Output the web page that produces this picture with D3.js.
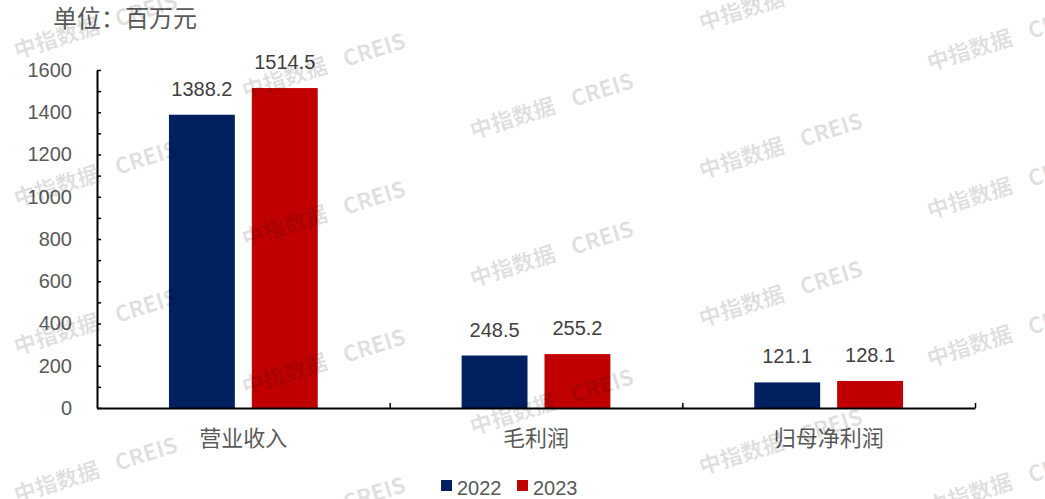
<!DOCTYPE html>
<html>
<head>
<meta charset="utf-8">
<script src="https://cdn.jsdelivr.net/npm/d3@7"></script>
<style>
  html, body { margin: 0; padding: 0; background: #fff; }
  svg { display: block; }
  text { font-family: "Liberation Sans", Arial, "Noto Sans CJK SC", sans-serif; }
</style>
</head>
<body>
<svg id="chart" width="1045" height="499"></svg>
<script>
const categories = ["营业收入", "毛利润", "归母净利润"];
const years = ["2022", "2023"];
const values2022 = [1388.2, 248.5, 121.1];
const values2023 = [1514.5, 255.2, 128.1];
const yTicks = [0, 100, 200, 300, 400, 500, 600, 700, 800, 900, 1000, 1100, 1200, 1300, 1400, 1500, 1600];
const unitLabel = "单位：百万元";
const colors = { "2022": "#002060", "2023": "#C00000" };

(function () {
const seriesValues = { "2022": values2022, "2023": values2023 };
const data = categories.map((c, i) => ({ cat: c, vals: years.map(y => ({ year: y, value: seriesValues[y][i] })) }));

const svg = d3.select("#chart");
const plotLeft = 97, plotRight = 975, plotTop = 70, plotBottom = 408;

const y = d3.scaleLinear().domain([0, 1600]).range([plotBottom, plotTop]);
const x0 = d3.scaleBand().domain(categories).range([plotLeft, plotRight]).paddingInner(0).paddingOuter(0);
const x1 = d3.scaleBand().domain(years).range([0, x0.bandwidth()]).paddingInner(17 / 83).paddingOuter(0.868);

// unit label
svg.append("text").attr("x", 53).attr("y", 27)
  .attr("font-size", 24).attr("fill", "#595959")
  .style("font-family", "'Noto Sans CJK SC', sans-serif")
  .text(unitLabel);

// bars
const g = svg.append("g");
const groups = g.selectAll("g.cat").data(data).enter().append("g")
  .attr("transform", d => `translate(${x0(d.cat)},0)`);
groups.selectAll("rect").data(d => d.vals).enter().append("rect")
  .attr("x", d => x1(d.year))
  .attr("y", d => y(d.value))
  .attr("width", x1.bandwidth())
  .attr("height", d => y(0) - y(d.value))
  .attr("fill", d => colors[d.year]);
groups.selectAll("text.val").data(d => d.vals).enter().append("text")
  .attr("class", "val")
  .attr("x", d => x1(d.year) + x1.bandwidth() / 2)
  .attr("y", d => y(d.value) - 19)
  .attr("text-anchor", "middle")
  .attr("font-size", 20)
  .attr("fill", "#404040")
  .text(d => d.value.toFixed(1));

// y axis
const yAxis = d3.axisLeft(y).tickValues(yTicks).tickSizeInner(-4).tickSizeOuter(0).tickPadding(25)
  .tickFormat(d => d % 200 === 0 ? d : "");
const yg = svg.append("g").attr("transform", `translate(${plotLeft},0)`).call(yAxis);
yg.select(".domain").attr("stroke", "#000").attr("stroke-width", 2);
yg.selectAll(".tick line").attr("stroke", "#000").attr("stroke-width", 1.5);
yg.selectAll(".tick text").attr("font-size", 20).attr("fill", "#595959")
  .style("font-family", "'Liberation Sans', Arial, sans-serif");

// x axis: boundary ticks
const xb = d3.scaleLinear().domain([0, categories.length]).range([plotLeft, plotRight]);
const xbAxis = d3.axisBottom(xb).tickValues([1, 2, 3]).tickSizeInner(-5).tickSizeOuter(0).tickFormat("");
const xbg = svg.append("g").attr("transform", `translate(0,${plotBottom})`).call(xbAxis);
xbg.select(".domain").attr("stroke", "#000").attr("stroke-width", 2);
xbg.selectAll(".tick line").attr("stroke", "#000").attr("stroke-width", 1.5);

// category labels
const xAxis = d3.axisBottom(x0).tickSize(0).tickPadding(22);
const xg = svg.append("g").attr("transform", `translate(0,${plotBottom})`).call(xAxis);
xg.select(".domain").remove();
xg.selectAll(".tick text").attr("font-size", 22).attr("fill", "#595959")
  .style("font-family", "'Noto Sans CJK SC', sans-serif");

// legend
const legend = svg.append("g");
const legX = [441, 517];
years.forEach((yr, i) => {
  legend.append("rect").attr("x", legX[i]).attr("y", 480).attr("width", 11).attr("height", 11).attr("fill", colors[yr]);
  legend.append("text").attr("x", legX[i] + 16).attr("y", 495).attr("font-size", 20).attr("fill", "#595959").text(yr);
});

// watermarks
const wm = svg.append("g").attr("pointer-events", "none");
const colX = [17, 245, 473, 702, 930];
const baseY = 59;
for (let c = 0; c < colX.length; c++) {
  for (let r = -1; r < 5; r++) {
    const wx = colX[c], wy = baseY + 40 * c + 148 * r;
    if (wy < -20 || wy > 560) continue;
    const t = wm.append("text")
      .attr("transform", `translate(${wx},${wy}) rotate(-17.6)`)
      .attr("font-size", 22).attr("font-weight", "bold")
      .attr("fill", "#000").attr("fill-opacity", 0.13)
      .style("font-family", "'Noto Sans CJK SC', sans-serif");
    t.append("tspan").text("中指数据");
    t.append("tspan").attr("dx", 18).text("CREIS");
  }
}
})();
</script>
</body>
</html>
